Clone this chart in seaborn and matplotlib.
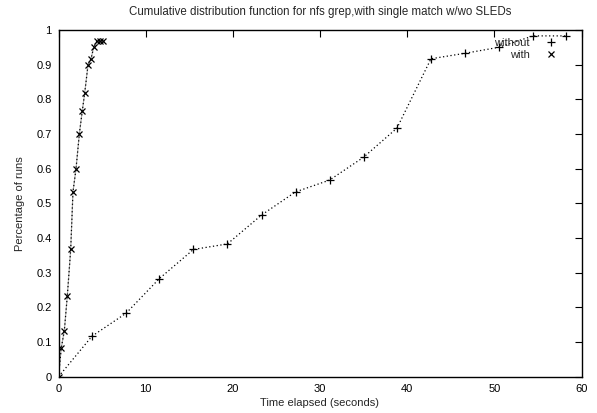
import matplotlib
matplotlib.use("Agg")
import matplotlib.pyplot as plt
import seaborn as sns
import pandas as pd
from matplotlib.lines import Line2D

sns.set_theme(style="white")
plt.rcParams['font.family'] = ['Liberation Sans', 'DejaVu Sans']

# Data
with_time = [0.0, 0.32, 0.67, 1.01, 1.40, 1.66, 2.01, 2.39, 2.73, 3.00, 3.39, 3.73, 4.04, 4.39, 4.76, 5.14]
with_frac = [0.0, 0.083, 0.133, 0.233, 0.367, 0.533, 0.600, 0.700, 0.767, 0.817, 0.900, 0.917, 0.950, 0.967, 0.967, 0.967]

without_time = [0.0, 3.85, 7.75, 11.57, 15.48, 19.38, 23.33, 27.19, 31.09, 35.0, 38.83, 42.73, 46.67, 50.5, 54.44, 58.27]
without_frac = [0.0, 0.117, 0.183, 0.283, 0.367, 0.383, 0.467, 0.533, 0.567, 0.633, 0.717, 0.917, 0.933, 0.950, 0.983, 0.983]

x_ticks = [0, 10, 20, 30, 40, 50, 60]
y_ticks = [0, 0.1, 0.2, 0.3, 0.4, 0.5, 0.6, 0.7, 0.8, 0.9, 1]
y_tick_labels = ["0", "0.1", "0.2", "0.3", "0.4", "0.5", "0.6", "0.7", "0.8", "0.9", "1"]

df_with = pd.DataFrame({"t": with_time, "p": with_frac})
df_without = pd.DataFrame({"t": without_time, "p": without_frac})

fig = plt.figure(figsize=(5.97, 4.13), dpi=100)
ax = fig.add_axes([58.5 / 597, 1 - 376.7 / 413, (581.5 - 58.5) / 597, (376.7 - 30) / 413])

sns.lineplot(data=df_without, x="t", y="p", ax=ax, sort=False, estimator=None,
             color="black", linestyle=(0, (1, 2)), linewidth=0.9,
             marker="+", markersize=6, markeredgewidth=0.9, markeredgecolor="black")
sns.lineplot(data=df_with, x="t", y="p", ax=ax, sort=False, estimator=None,
             color="#aaaaaa", linestyle="-", linewidth=0.8)
sns.lineplot(data=df_with, x="t", y="p", ax=ax, sort=False, estimator=None,
             color="black", linestyle=(0, (1, 2)), linewidth=0.9,
             marker="x", markersize=5, markeredgewidth=0.9, markeredgecolor="black")

ax.set_xlim(0, 60)
ax.set_ylim(0, 1)
ax.set_xticks(x_ticks)
ax.set_xticklabels([str(v) for v in x_ticks])
ax.set_yticks(y_ticks)
ax.set_yticklabels(y_tick_labels)

for s in ax.spines.values():
    s.set_visible(True)
    s.set_color("black")
    s.set_linewidth(1.0)

ax.tick_params(axis="both", which="both", direction="in", length=5, width=0.8,
               top=True, right=True, labelsize=8, colors="black", pad=5)

ax.set_xlabel("Time elapsed (seconds)", fontsize=8, labelpad=3)
ax.set_ylabel("Percentage of runs", fontsize=8, labelpad=8)
ax.set_title("Cumulative distribution function for nfs grep,with single match w/wo SLEDs",
             fontsize=8.3, pad=11)

handles = [Line2D([], [], linestyle="none", marker="+", color="black", markersize=6, markeredgewidth=0.9),
           Line2D([], [], linestyle="none", marker="x", color="black", markersize=5, markeredgewidth=0.9)]
leg = ax.legend(handles, ["without", "with"], loc="upper right", frameon=False,
                bbox_to_anchor=(0.973, 1.0),
                markerfirst=False, fontsize=8, handlelength=1.5, handletextpad=1.2,
                labelspacing=0.2, borderaxespad=0.3)
for t in leg.get_texts():
    t.set_ha("right")

fig.savefig("out.png", dpi=100)
